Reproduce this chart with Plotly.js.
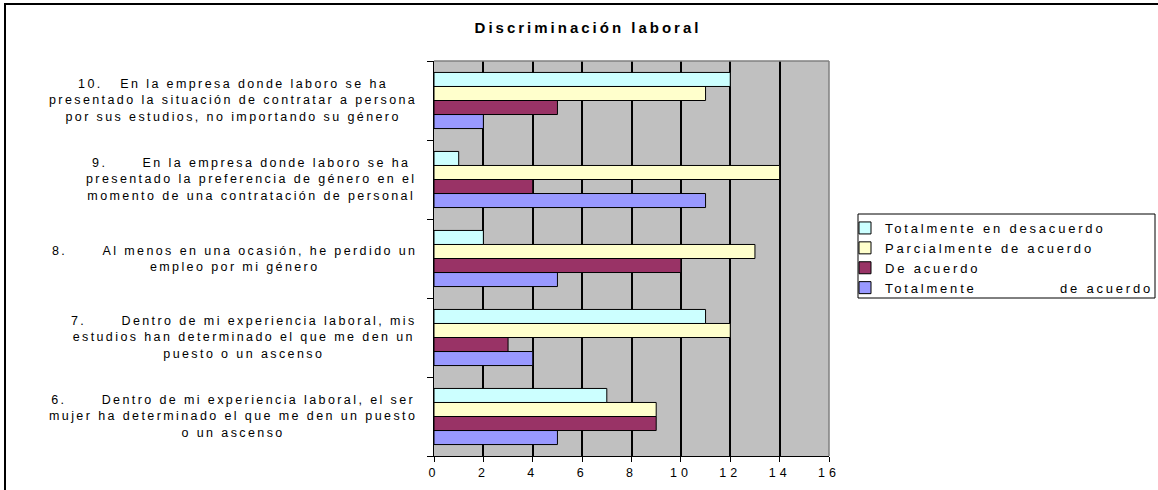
<!DOCTYPE html>
<html>
<head>
<meta charset="utf-8">
<script src="https://cdn.plot.ly/plotly-3.0.1.min.js"></script>
<style>
  html, body { margin: 0; padding: 0; background: #fff; }
  #wrap { position: relative; width: 1158px; height: 490px; overflow: hidden; }
  #chart { width: 1158px; height: 490px; }
  #frame { position: absolute; left: 4px; top: 3px; width: 1200px; height: 600px;
           border-left: 2px solid #000; border-top: 2px solid #000; pointer-events: none; }
  .annotation-text { letter-spacing: 2.4px; }
  .legendtext { letter-spacing: 2.8px; }
  .xtick text { letter-spacing: 4px; }
  .gtitle { letter-spacing: 3px; }
</style>
</head>
<body>
<div id="wrap">
  <div id="chart"></div>
  <div id="frame"></div>
</div>
<script>
const NB = '\u00A0';
const categories = [
  '6.' + NB.repeat(6) + 'Dentro de mi experiencia laboral, el ser<br>mujer ha determinado el que me den un puesto<br>o un ascenso',
  '7.' + NB.repeat(6) + 'Dentro de mi experiencia laboral, mis<br>estudios han determinado el que me den un<br>puesto o un ascenso',
  '8.' + NB.repeat(6) + 'Al menos en una ocasión, he perdido un<br>empleo por mi género',
  '9.' + NB.repeat(6) + 'En la empresa donde laboro se ha<br>presentado la preferencia de género en el<br>momento de una contratación de personal',
  '10.' + NB.repeat(3) + 'En la empresa donde laboro se ha<br>presentado la situación de contratar a persona<br>por sus estudios, no importando su género'
];
const seriesNames = [
  'Totalmente en desacuerdo',
  'Parcialmente de acuerdo',
  'De acuerdo',
  'Totalmente' + NB.repeat(13) + 'de acuerdo'
];
const totalmenteDesacuerdo = [7, 11, 2, 1, 12];
const parcialmenteAcuerdo  = [9, 12, 13, 14, 11];
const deAcuerdo            = [9, 3, 10, 4, 5];
const totalmenteAcuerdo    = [5, 4, 5, 11, 2];
const xTicks = [0, 2, 4, 6, 8, 10, 12, 14, 16];
const chartTitle = 'Discriminación laboral';

const colors = ['#CCFFFF', '#FFFFCC', '#993366', '#9999FF'];
const values = [totalmenteDesacuerdo, parcialmenteAcuerdo, deAcuerdo, totalmenteAcuerdo];

// bottom-to-top drawing order inside each group: last series first
const traces = [3, 2, 1, 0].map(i => ({
  type: 'bar',
  orientation: 'h',
  name: seriesNames[i],
  y: categories,
  x: values[i],
  marker: { color: colors[i], line: { color: '#000', width: 1 } },
  hoverinfo: 'x+name'
}));

const PL = 434, PR = 829, PT = 61, PB = 456;
const W = 1158, H = 490;
const pw = PR - PL, ph = PB - PT;
const px = v => (v - PL) / pw;
const py = v => (PB - v) / ph;
const FONT = 'Liberation Sans, Arial, sans-serif';

const annotations = categories.map(c => ({
  xref: 'paper', yref: 'y',
  x: px(419), y: c,
  xanchor: 'right', yanchor: 'middle',
  align: 'center',
  text: c,
  showarrow: false,
  font: { family: FONT, size: 12.5, color: '#000' }
}));

const layout = {
  width: W, height: H, autosize: false,
  margin: { l: PL, r: W - PR, t: PT, b: H - PB, pad: 0, autoexpand: false },
  paper_bgcolor: 'rgba(0,0,0,0)',
  plot_bgcolor: '#C0C0C0',
  font: { family: FONT, size: 12, color: '#000' },
  title: {
    text: '<b>' + chartTitle + '</b>',
    font: { family: FONT, size: 15, color: '#000' },
    xref: 'container', yref: 'container',
    x: 588 / W, y: 1 - 28 / H, xanchor: 'center', yanchor: 'middle'
  },
  barmode: 'group',
  bargap: 0.29,
  bargroupgap: 0,
  showlegend: true,
  legend: {
    traceorder: 'reversed',
    x: px(845), y: py(213), xanchor: 'left', yanchor: 'top',
    bgcolor: 'rgba(0,0,0,0)', borderwidth: 0,
    font: { family: FONT, size: 13, color: '#000' }
  },
  xaxis: {
    range: [0, 16],
    tickvals: xTicks,
    ticktext: xTicks.map(String),
    showgrid: true, gridcolor: '#000', gridwidth: 1.5,
    zeroline: false,
    showline: true, linecolor: '#000', linewidth: 1,
    ticks: 'outside', ticklen: 5, tickcolor: '#000', tickwidth: 1,
    tickfont: { family: FONT, size: 12.5, color: '#000' },
    fixedrange: true
  },
  yaxis: {
    type: 'category',
    showticklabels: false,
    showgrid: false,
    zeroline: false,
    showline: true, linecolor: '#000', linewidth: 1,
    ticks: 'outside', tickson: 'boundaries', ticklen: 6, tickcolor: '#000', tickwidth: 1,
    fixedrange: true
  },
  annotations: annotations,
  shapes: [
    { type: 'line', xref: 'paper', yref: 'paper', x0: 0, x1: 1, y0: 1, y1: 1,
      line: { color: '#808080', width: 1.5 }, layer: 'above' },
    { type: 'line', xref: 'paper', yref: 'paper', x0: 1, x1: 1, y0: 0, y1: 1,
      line: { color: '#808080', width: 1.5 }, layer: 'above' },
    { type: 'rect', xref: 'paper', yref: 'paper',
      x0: px(858), x1: px(1155), y0: py(298), y1: py(214),
      line: { color: '#000', width: 1 }, fillcolor: 'rgba(0,0,0,0)', layer: 'above' }
  ]
};

Plotly.newPlot('chart', traces, layout, { displayModeBar: false });
</script>
</body>
</html>
